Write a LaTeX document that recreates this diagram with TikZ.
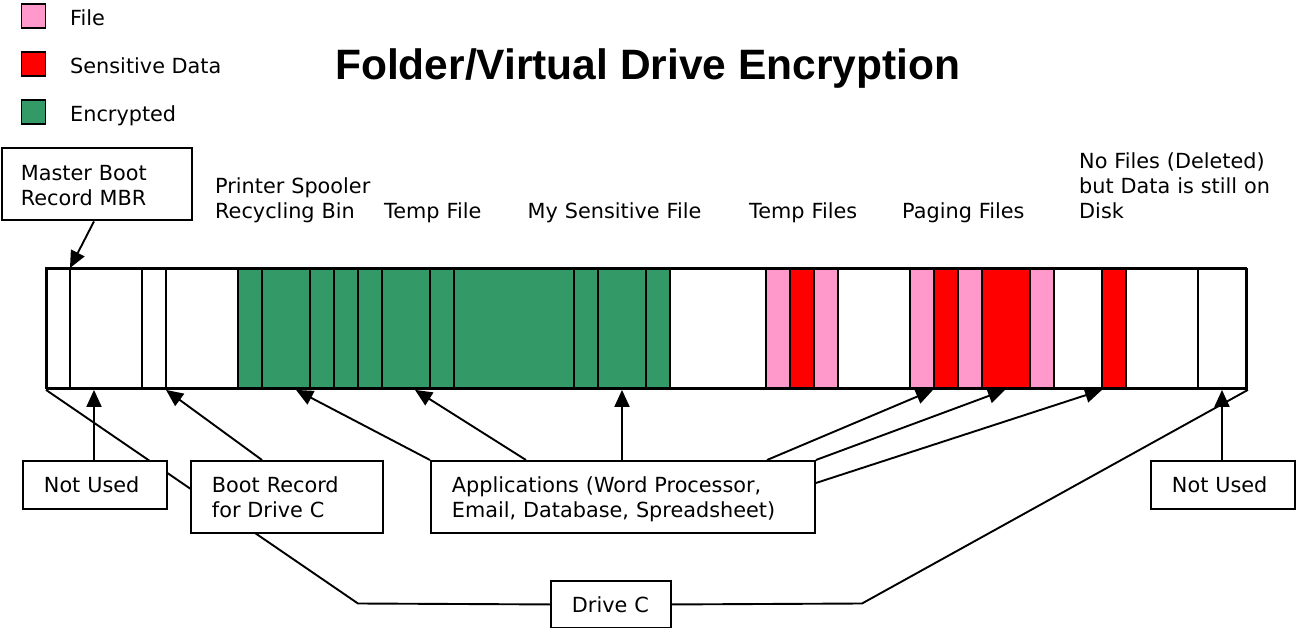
\documentclass[tikz,border=0pt]{standalone}
\usepackage{fontspec}
\setmainfont{DejaVu Sans}
\newfontfamily\titlefont{Liberation Sans}
\usetikzlibrary{arrows.meta,calc}
\definecolor{encgreen}{HTML}{339966}
\definecolor{filepink}{HTML}{FF99CC}
\definecolor{sensred}{HTML}{FF0000}
\begin{document}
\begin{tikzpicture}[x=1pt,y=-1pt,
  lw/.style={line width=1.9pt},
  lbl/.style={font=\fontsize{20.8pt}{25pt}\selectfont, inner sep=0pt, anchor=base west, align=left},
  box/.style={draw, lw, fill=white, anchor=north west, inner xsep=21pt, inner ysep=0pt,
    align=left, font=\fontsize{20.8pt}{25pt}\selectfont, text height=16pt},
  onel/.style={box, text depth=0.6pt, minimum height=48pt},
  twol/.style={box, text depth=24.6pt, minimum height=72pt},
  legsq/.style={draw, lw, minimum size=24pt, inner sep=0pt},
  cell/.style={draw, lw},
  conn/.style={draw, lw},
  arr/.style={draw, lw, -{Triangle[length=17pt,width=15pt]}}
]
\useasboundingbox (0,0) rectangle (1296,628);
\fill[white] (0,0) rectangle (1296,628);

% legend
\node[legsq, fill=filepink] (lfile) at (33.5,16) {};
\node[legsq, fill=sensred] (lsens) at (33.5,64) {};
\node[legsq, fill=encgreen] (lenc) at (33.5,112) {};
\node[lbl] (tfile) at (70,26) {File};
\node[lbl] (tsens) at (70,74) {Sensitive Data};
\node[lbl] (tenc) at (70,122) {Encrypted};

% title
\node[anchor=base west, inner sep=0pt, font=\titlefont\bfseries\fontsize{42.5pt}{50pt}\selectfont] (title) at (335,80) {Folder/Virtual Drive Encryption};

% disk bar
\foreach \a/\b/\c in {0/1/white,1/4/white,4/5/white,5/8/white,
  8/9/encgreen,9/11/encgreen,11/12/encgreen,12/13/encgreen,13/14/encgreen,14/16/encgreen,
  16/17/encgreen,17/22/encgreen,22/23/encgreen,23/25/encgreen,25/26/encgreen,
  26/30/white,30/31/filepink,31/32/sensred,32/33/filepink,33/36/white,
  36/37/filepink,37/38/sensred,38/39/filepink,39/41/sensred,41/42/filepink,
  42/44/white,44/45/sensred,45/48/white,48/50/white}
  \draw[cell, fill=\c] ({46+24*\a},268) rectangle ({46+24*\b},388);
\node[draw, lw, anchor=north west, minimum width=1200pt, minimum height=120pt, inner sep=0pt] (bar) at (46,268) {};

% top labels
\node[lbl, text width=200pt] (prn) at (215,193.3) {Printer Spooler\\Recycling Bin};
\node[lbl, text width=120pt] (tmpa) at (384,218.3) {Temp File};
\node[lbl, text width=200pt] (mysf) at (527.5,218.3) {My Sensitive File};
\node[lbl, text width=140pt] (tmpb) at (749,218.3) {Temp Files};
\node[lbl, text width=140pt] (pag) at (902,218.3) {Paging Files};
\node[lbl, text width=210pt] (nof) at (1079,168.5) {No Files (Deleted)\\but Data is still on\\Disk};

% Drive C and its span lines (drawn before the boxes that hide them)
\node[onel, minimum height=47pt, minimum width=120pt, text width=78pt] (drive) at (550,580) {Drive C};
\coordinate (dl) at (358,603.5);
\coordinate (dr) at (862,603.5);
\draw[conn] (drive.west) -- (dl) -- (bar.south west);
\draw[conn] (drive.east) -- (dr) -- (bar.south east);

% boxes
\node[twol, inner xsep=19pt, minimum width=190pt, text width=152pt] (mbr) at (0.95,147.5) {Master Boot\\Record MBR};
\node[onel, minimum width=144pt, text width=102pt] (nua) at (22,460) {Not Used};
\node[twol, minimum width=192pt, text width=150pt] (boot) at (190,460) {Boot Record\\for Drive C};
\node[twol, minimum width=384pt, text width=342pt] (apps) at (430,460) {Applications (Word Processor,\\Email, Database, Spreadsheet)};
\node[onel, minimum width=144pt, text width=102pt] (nub) at (1150,460) {Not Used};

% arrows
\draw[arr] (94,0 |- mbr.south) -- (70,0 |- bar.north);
\draw[arr] (94,0 |- nua.north) -- (94,0 |- bar.south);
\draw[arr] (262,0 |- boot.north) -- (166,0 |- bar.south);
\draw[arr] (apps.north west) -- (296,0 |- bar.south);
\draw[arr] (526,0 |- apps.north) -- (415,0 |- bar.south);
\draw[arr] (622,0 |- apps.north) -- (622,0 |- bar.south);
\draw[arr] (767,0 |- apps.north) -- (933,0 |- bar.south);
\draw[arr] (apps.north east) -- (1005,0 |- bar.south);
\draw[arr] ($(apps.north east)+(0,23)$) -- (1102,0 |- bar.south);
\draw[arr] (1222,0 |- nub.north) -- (1222,0 |- bar.south);
\end{tikzpicture}
\end{document}
